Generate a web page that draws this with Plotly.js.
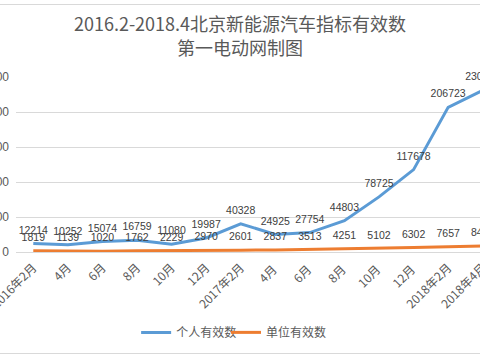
<!DOCTYPE html>
<html>
<head>
<meta charset="utf-8">
<script src="https://cdn.plot.ly/plotly-3.0.1.min.js"></script>
<style>
html,body{margin:0;padding:0;width:480px;height:357px;overflow:hidden;background:#fff;}
#chart{position:absolute;left:-40px;top:0;width:560px;height:357px;}
.hl{position:absolute;left:0;width:480px;height:0;border-top:1px solid #d9d9d9;}
</style>
</head>
<body>
<div id="chart"></div>
<div class="hl" style="top:4px"></div>
<div class="hl" style="top:353px"></div>
<script>
const categories = ['2016年2月','4月','6月','8月','10月','12月','2017年2月','4月 ','6月 ','8月 ','10月 ','12月 ','2018年2月','2018年4月'];
const personal = [12214,10252,15074,16759,11080,19987,40328,24925,27754,44803,78725,117678,206723,230900];
const unit = [1819,1139,1020,1762,2229,2970,2601,2837,3513,4251,5102,6302,7657,8426];
const seriesNames = ['个人有效数','单位有效数'];
const yTicks = [0,50000,100000,150000,200000,250000];

const labelFont = {family:'Liberation Sans, Arial, sans-serif', size:10.5, color:'#404040'};
function mk(vals, name, color, leg){
  return {
    x: categories, y: vals, name: name, type:'scatter', mode:'lines+markers+text',
    line:{color:color, width:3},
    marker:{size:10, color:'rgba(0,0,0,0)'},
    text: vals.map(String), textposition:'top center', textfont: labelFont,
    cliponaxis:false, hoverinfo:'x+y', legend: leg
  };
}
const data = [mk(personal, seriesNames[0], '#5b9bd5', 'legend'), mk(unit, seriesNames[1], '#ed7d31', 'legend2')];
const legFont = {family:'Noto Sans CJK SC, sans-serif', size:12, color:'#595959'};
const layout = {
  width:560, height:357,
  margin:{l:55.7, r:19.7, t:77.3, b:103.5},
  paper_bgcolor:'#fff', plot_bgcolor:'#fff',
  title:{text:'2016.2-2018.4北京新能源汽车指标有效数<br>第一电动网制图', x:0.5, xref:'container', y:0.912, yanchor:'middle',
         font:{family:'Noto Sans CJK SC, sans-serif', size:18, color:'#595959'}},
  xaxis:{type:'category', range:[-0.5,13.5], tickangle:-45, showgrid:false, zeroline:false,
         showline:true, linecolor:'#d9d9d9', linewidth:1, ticks:'', ticklabelstandoff:3,
         tickfont:{family:'Noto Sans CJK SC, sans-serif', size:12, color:'#595959'}},
  yaxis:{range:[0,250000], tickvals:yTicks, ticktext:yTicks.map(String), showgrid:true, gridcolor:'#d9d9d9', gridwidth:1,
         zeroline:false, showline:false, ticks:'', ticklabelstandoff:6,
         tickfont:{family:'Liberation Sans, Arial, sans-serif', size:12, color:'#595959'}},
  showlegend:true,
  legend:{orientation:'h', x:0.2482, xanchor:'left', y:-0.451, yanchor:'middle', font:legFont, itemwidth:30, bgcolor:'rgba(0,0,0,0)'},
  legend2:{orientation:'h', x:0.4339, xanchor:'left', y:-0.451, yanchor:'middle', font:legFont, itemwidth:30, bgcolor:'rgba(0,0,0,0)'},
};
Plotly.newPlot('chart', data, layout, {displayModeBar:false, staticPlot:true});
</script>
</body>
</html>
